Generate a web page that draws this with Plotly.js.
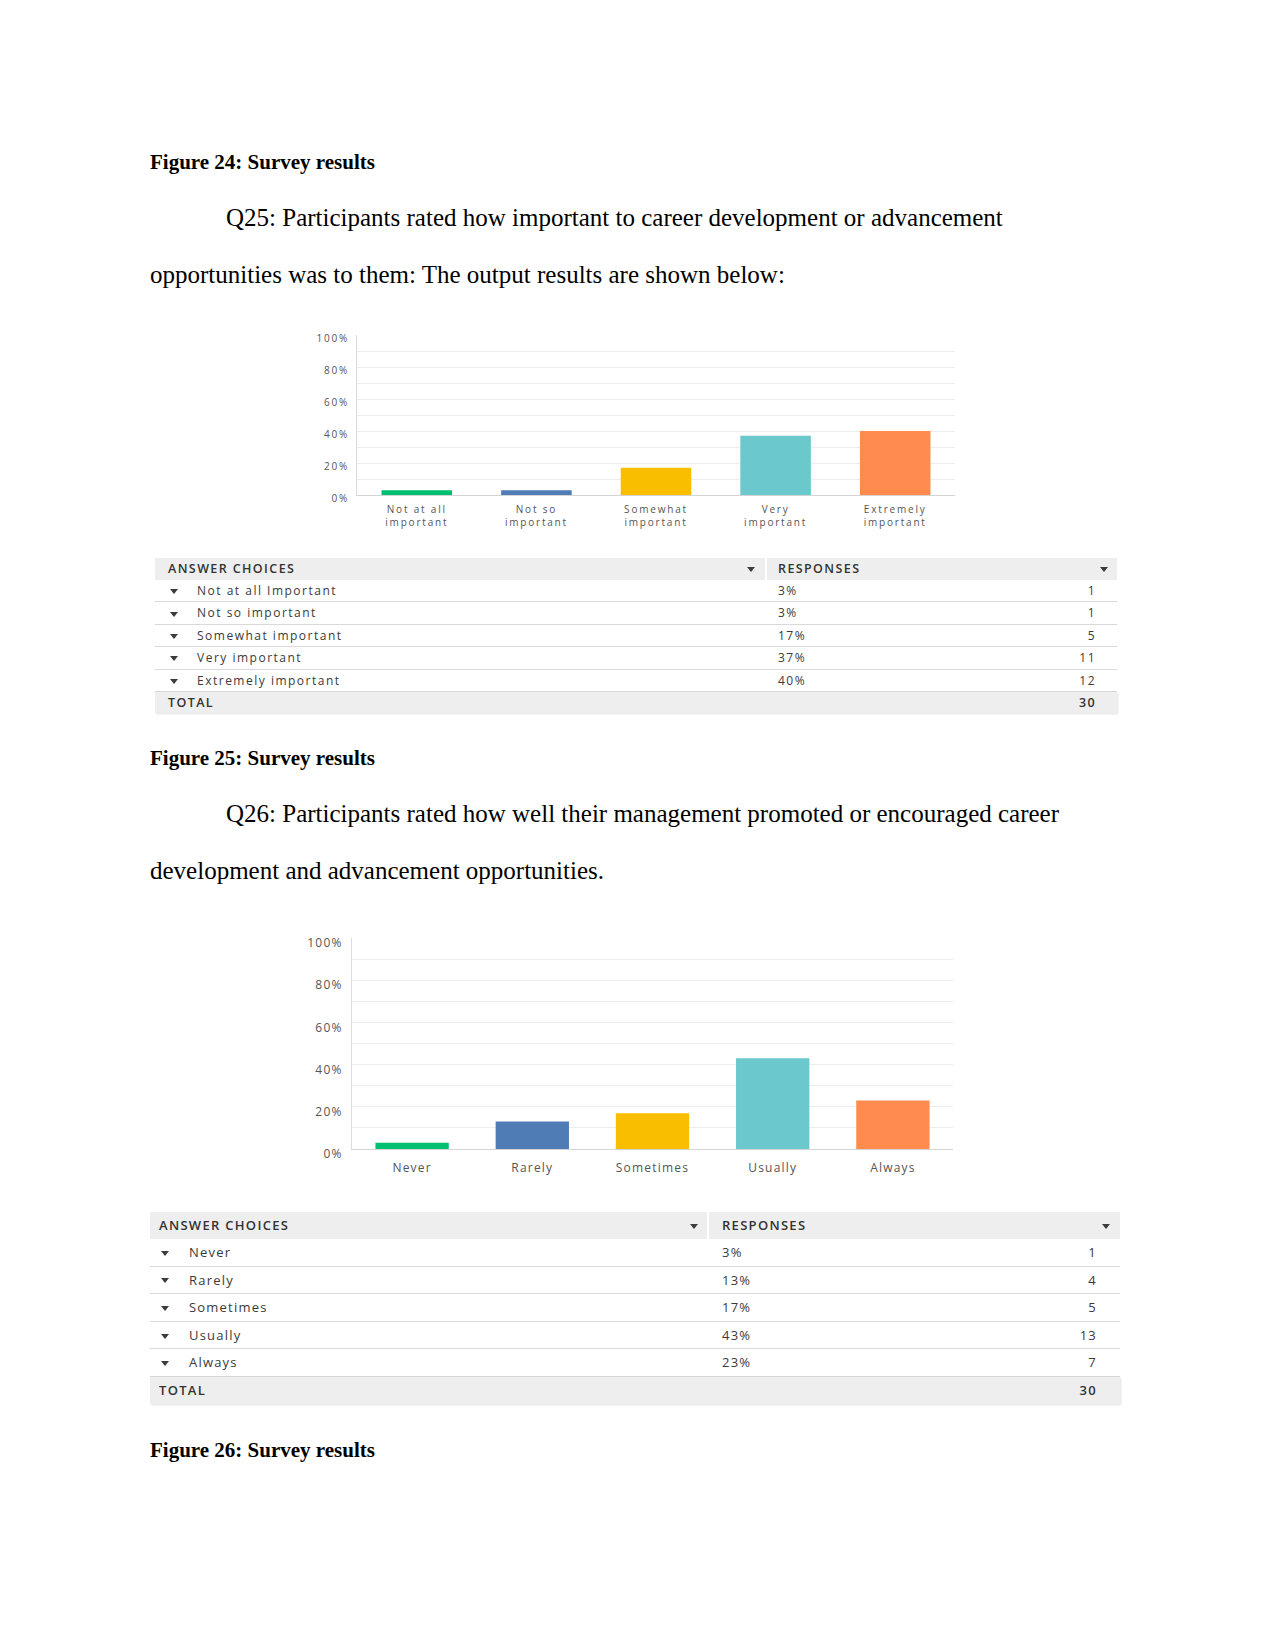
<!DOCTYPE html>
<html>
<head>
<meta charset="utf-8">
<script src="https://cdn.plot.ly/plotly-3.0.1.min.js"></script>
<style>
html,body{margin:0;padding:0;background:#fff;}
body{width:1275px;height:1650px;position:relative;overflow:hidden;}
.t{position:absolute;font-family:"Liberation Serif","Times New Roman",serif;color:#000;white-space:nowrap;}
.cap{font-size:21px;line-height:21px;font-weight:bold;}
.body{font-size:25px;line-height:25px;}
.chart{position:absolute;}
#c1 text{letter-spacing:1.8px;}
#c2 text{letter-spacing:1.2px;}
.box{position:absolute;}
.cell{position:absolute;white-space:nowrap;font-family:"Open Sans",sans-serif;}
.tri{position:absolute;width:0;height:0;border-left:4px solid transparent;border-right:4px solid transparent;border-top:5px solid #3c3c3c;}
</style>
</head>
<body>

<div class="t cap" style="left:150px;top:152px;">Figure 24: Survey results</div>
<div class="t body" style="left:226px;top:205px;">Q25: Participants rated how important to career development or advancement</div>
<div class="t body" style="left:150px;top:262px;">opportunities was to them: The output results are shown below:</div>

<div id="c1" class="chart" style="left:290px;top:320px;width:680px;height:220px;"></div>
<div id="t1"></div>

<div class="t cap" style="left:150px;top:748px;">Figure 25: Survey results</div>
<div class="t body" style="left:226px;top:801px;">Q26: Participants rated how well their management promoted or encouraged career</div>
<div class="t body" style="left:150px;top:858px;">development and advancement opportunities.</div>

<div id="c2" class="chart" style="left:290px;top:920px;width:680px;height:270px;"></div>
<div id="t2"></div>

<div class="t cap" style="left:150px;top:1440px;">Figure 26: Survey results</div>

<script>
// ---------- DATA ----------
const q25Categories = ['Not at all<br>important', 'Not so<br>important', 'Somewhat<br>important', 'Very<br>important', 'Extremely<br>important'];
const q25Choices = ['Not at all Important', 'Not so important', 'Somewhat important', 'Very important', 'Extremely important'];
const q25Percent = [3, 3, 17, 37, 40];
const q25Counts = [1, 1, 5, 11, 12];
const q25Total = 30;

const q26Categories = ['Never', 'Rarely', 'Sometimes', 'Usually', 'Always'];
const q26Choices = ['Never', 'Rarely', 'Sometimes', 'Usually', 'Always'];
const q26Percent = [3, 13, 17, 43, 23];
const q26Counts = [1, 4, 5, 13, 7];
const q26Total = 30;

const tableHeaders = ['ANSWER CHOICES', 'RESPONSES'];
const totalLabel = 'TOTAL';

// ---------- STYLE ----------
const barColors = ['#00bf6f', '#507cb6', '#f9be00', '#6bc8cd', '#ff8b4f'];

function chartLayout(opts) {
  return {
    width: opts.w, height: opts.h,
    margin: opts.margin,
    paper_bgcolor: 'rgba(0,0,0,0)', plot_bgcolor: 'rgba(0,0,0,0)',
    bargap: opts.bargap, showlegend: false,
    font: {family: 'Open Sans, sans-serif', size: opts.fs, color: '#555'},
    xaxis: {type: 'category', showline: true, linecolor: '#d4d4d4', linewidth: 1,
            ticks: '', showgrid: false, zeroline: false, fixedrange: true,
            ticklabelstandoff: opts.xstandoff,
            tickfont: {size: opts.fs, color: '#555'}},
    yaxis: {range: [0, 100], tickmode: 'linear', tick0: 0, dtick: 20, ticksuffix: '%',
            showgrid: true, gridcolor: '#ededed', gridwidth: 1,
            showline: true, linecolor: '#dcdcdc', linewidth: 1, zeroline: false,
            ticks: '', ticklabelstandoff: opts.standoff, ticklabelshift: opts.yshift, fixedrange: true,
            tickfont: {size: opts.fs, color: '#555'},
            minor: {dtick: 10, tick0: 0, showgrid: true, gridcolor: '#ededed', gridwidth: 1}}
  };
}

Plotly.newPlot('c1', [{
  type: 'bar', x: q25Categories, y: q25Percent,
  marker: {color: barColors, line: {width: 0}}, hoverinfo: 'none'
}], chartLayout({w: 680, h: 220, margin: {l: 67, r: 15, t: 15, b: 45}, bargap: 0.41, fs: 10, standoff: 5, yshift: 3, xstandoff: 5}),
{staticPlot: true, displayModeBar: false});

Plotly.newPlot('c2', [{
  type: 'bar', x: q26Categories, y: q26Percent,
  marker: {color: barColors, line: {width: 0}}, hoverinfo: 'none'
}], chartLayout({w: 680, h: 270, margin: {l: 62, r: 17, t: 18, b: 41}, bargap: 0.39, fs: 12, standoff: 6, yshift: 5, xstandoff: 8}),
{staticPlot: true, displayModeBar: false});

// ---------- TABLES ----------
function el(parent, cls, css, text) {
  const d = document.createElement('div');
  d.className = cls;
  Object.assign(d.style, css);
  if (text !== undefined) d.textContent = text;
  parent.appendChild(d);
  return d;
}

function buildTable(hostId, choices, pct, counts, total, g) {
  const host = document.getElementById(hostId);
  const px = v => v + 'px';
  const W = 1275;
  el(host, 'box', {left: px(g.left), top: px(g.top), width: px(g.split - g.left), height: px(g.headH), background: '#eeeeee'});
  el(host, 'box', {left: px(g.split + 2), top: px(g.top), width: px(g.right - g.split - 2), height: px(g.headH), background: '#eeeeee'});
  const hcss = {top: px(g.top), height: px(g.headH), lineHeight: px(g.headH), fontSize: px(g.hfs), fontWeight: '600', color: '#333', letterSpacing: px(g.hls)};
  el(host, 'cell', Object.assign({left: px(g.xText)}, hcss), tableHeaders[0]);
  el(host, 'cell', Object.assign({left: px(g.xPct)}, hcss), tableHeaders[1]);
  el(host, 'tri', {left: px(g.xHTri1 - 4), top: px(g.top + g.headH / 2 - 2)});
  el(host, 'tri', {left: px(g.xHTri2 - 4), top: px(g.top + g.headH / 2 - 2)});
  for (let i = 0; i < choices.length; i++) {
    const top = g.top + g.headH + i * g.rowH;
    el(host, 'box', {left: px(g.left), top: px(top), width: px(g.right - g.left), height: px(g.rowH - 1), borderBottom: '1px solid #d9d9d9'});
    const rcss = {top: px(top), height: px(g.rowH), lineHeight: px(g.rowH), fontSize: px(g.fs), color: '#3a3a3a', letterSpacing: px(g.ls)};
    el(host, 'tri', {left: px(g.xTri - 4), top: px(top + g.rowH / 2 - 2)});
    el(host, 'cell', Object.assign({left: px(g.xLabel)}, rcss), choices[i]);
    el(host, 'cell', Object.assign({left: px(g.xPct)}, rcss), pct[i] + '%');
    el(host, 'cell', Object.assign({right: px(W - g.xCountR), textAlign: 'right'}, rcss), String(counts[i]));
  }
  const tt = g.top + g.headH + choices.length * g.rowH;
  el(host, 'box', {left: px(g.left), top: px(tt), width: px(g.right - g.left), height: px(g.totH), background: '#eeeeee', boxShadow: '1px 1px 2px rgba(0,0,0,0.12)'});
  const tcss = {top: px(tt), height: px(g.totH), lineHeight: px(g.totH), fontSize: px(g.hfs), fontWeight: '600', color: '#333', letterSpacing: px(g.hls)};
  el(host, 'cell', Object.assign({left: px(g.xText)}, tcss), totalLabel);
  el(host, 'cell', Object.assign({right: px(W - g.xCountR), textAlign: 'right'}, tcss), String(total));
}

buildTable('t1', q25Choices, q25Percent, q25Counts, q25Total, {
  left: 155, right: 1117, split: 765, top: 558, headH: 22, rowH: 22.4, totH: 21,
  fs: 12, ls: 1.5, hfs: 12.5, hls: 1.4,
  xText: 168, xTri: 174, xLabel: 197, xPct: 778, xCountR: 1096, xHTri1: 751, xHTri2: 1104
});

buildTable('t2', q26Choices, q26Percent, q26Counts, q26Total, {
  left: 150, right: 1120, split: 707, top: 1212, headH: 27, rowH: 27.6, totH: 27,
  fs: 13, ls: 1.2, hfs: 13, hls: 1.3,
  xText: 159, xTri: 165, xLabel: 189, xPct: 722, xCountR: 1097, xHTri1: 694, xHTri2: 1106
});
</script>
</body>
</html>
